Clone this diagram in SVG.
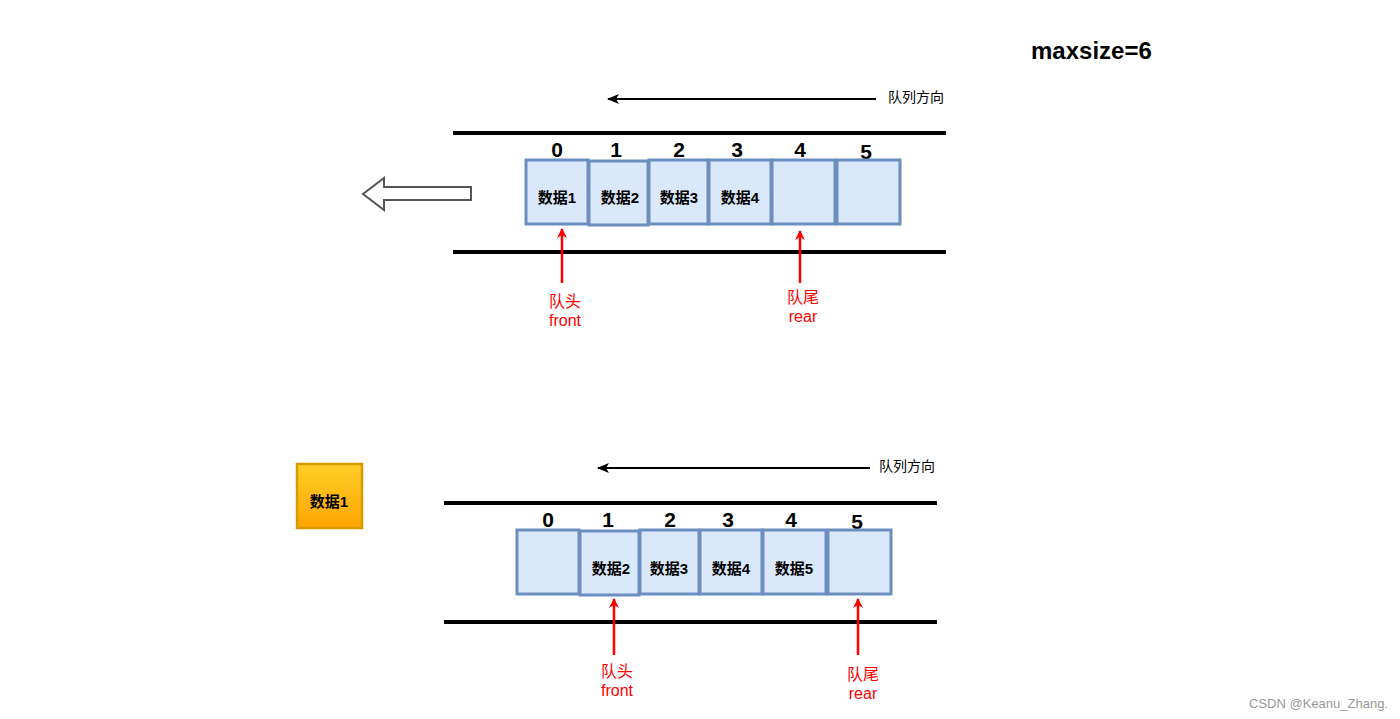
<svg xmlns="http://www.w3.org/2000/svg" width="1400" height="719" viewBox="0 0 1400 719">
<defs>
<marker id="ah" markerWidth="12" markerHeight="10" refX="11" refY="5" orient="auto" markerUnits="userSpaceOnUse"><path d="M0,0 L12,5 L0,10 L3,5 Z" fill="#000"/></marker>
<marker id="rh" markerWidth="10" markerHeight="12" refX="9" refY="5" orient="auto" markerUnits="userSpaceOnUse"><path d="M0,0 L10,5 L0,10 L3,5 Z" fill="#ff0000"/></marker>
<linearGradient id="og" x1="0" y1="0" x2="0" y2="1"><stop offset="0" stop-color="#ffcd28"/><stop offset="1" stop-color="#ffa500"/></linearGradient>
</defs>
<style>
.cell{fill:#dae8fc;stroke:#6c8ebf;stroke-width:3}
.rail{stroke:#000;stroke-width:4}
.idx{font-family:"Liberation Sans",Arial,sans-serif;font-weight:bold;font-size:21px;text-anchor:middle;fill:#000}
.lbl{font-family:"Liberation Sans","Noto Sans CJK SC",sans-serif;font-weight:bold;font-size:15px;text-anchor:middle;fill:#000}
.dir{font-family:"Liberation Sans","Noto Sans CJK SC",sans-serif;font-size:14px;fill:#000}
.red{font-family:"Liberation Sans","Noto Sans CJK SC",sans-serif;font-size:16px;text-anchor:middle;fill:#ff0000}
.dl{stroke:#000;stroke-width:2;fill:none}
.rl{stroke:#ff0000;stroke-width:2.5;fill:none}
</style>
<rect width="1400" height="719" fill="#fff"/>
<text x="1031" y="59" font-family="Liberation Sans,Arial,sans-serif" font-weight="bold" font-size="24" fill="#000">maxsize=6</text>

<g id="top-rails"><line class="rail" x1="453" y1="133" x2="946" y2="133"/><line class="rail" x1="453" y1="252" x2="946" y2="252"/></g>
<g id="top-indices"><text class="idx" x="557" y="157">0</text><text class="idx" x="616" y="157">1</text><text class="idx" x="679" y="157">2</text><text class="idx" x="737" y="157">3</text><text class="idx" x="800" y="157">4</text><text class="idx" x="866" y="159">5</text></g>
<g id="top-cell0"><rect class="cell" x="526" y="160" width="62" height="64"/><text class="lbl" x="557" y="203">数据1</text></g>
<g id="top-cell1"><rect class="cell" x="589" y="161" width="59" height="64"/><text class="lbl" x="620" y="203">数据2</text></g>
<g id="top-cell2"><rect class="cell" x="649" y="160" width="59" height="64"/><text class="lbl" x="679" y="203">数据3</text></g>
<g id="top-cell3"><rect class="cell" x="709" y="160" width="62" height="64"/><text class="lbl" x="740" y="203">数据4</text></g>
<g id="top-cell4"><rect class="cell" x="772" y="160" width="63" height="64"/></g>
<g id="top-cell5"><rect class="cell" x="837" y="160" width="63" height="64"/></g>
<g id="top-out-arrow"><path d="M471,187 L384,187 L384,178 L363,194 L384,210 L384,200 L471,200 Z" fill="#fff" stroke="#555" stroke-width="2"/></g>
<g id="top-dir"><text class="dir" x="888" y="102">队列方向</text></g>
<g id="top-front-label"><text class="red" x="565" y="307">队头</text><text class="red" x="565" y="326">front</text></g>
<g id="top-rear-label"><text class="red" x="803" y="303">队尾</text><text class="red" x="803" y="322">rear</text></g>

<g id="bottom-rails"><line class="rail" x1="444" y1="503" x2="937" y2="503"/><line class="rail" x1="444" y1="622" x2="937" y2="622"/></g>
<g id="bottom-indices"><text class="idx" x="548" y="527">0</text><text class="idx" x="608" y="527">1</text><text class="idx" x="670" y="527">2</text><text class="idx" x="728" y="527">3</text><text class="idx" x="791" y="527">4</text><text class="idx" x="857" y="529">5</text></g>
<g id="bottom-cell0"><rect class="cell" x="517" y="530" width="62" height="64"/></g>
<g id="bottom-cell1"><rect class="cell" x="580" y="531" width="59" height="64"/><text class="lbl" x="611" y="574">数据2</text></g>
<g id="bottom-cell2"><rect class="cell" x="640" y="530" width="59" height="64"/><text class="lbl" x="669" y="574">数据3</text></g>
<g id="bottom-cell3"><rect class="cell" x="700" y="530" width="62" height="64"/><text class="lbl" x="731" y="574">数据4</text></g>
<g id="bottom-cell4"><rect class="cell" x="763" y="530" width="63" height="64"/><text class="lbl" x="794" y="574">数据5</text></g>
<g id="bottom-cell5"><rect class="cell" x="828" y="530" width="63" height="64"/></g>
<g id="dequeued"><rect x="297" y="464" width="65" height="64" fill="url(#og)" stroke="#d79b00" stroke-width="2.5"/><text class="lbl" x="329" y="507">数据1</text></g>
<g id="bottom-dir"><text class="dir" x="879" y="471">队列方向</text></g>
<g id="bottom-front-label"><text class="red" x="617" y="677">队头</text><text class="red" x="617" y="696">front</text></g>
<g id="bottom-rear-label"><text class="red" x="863" y="680">队尾</text><text class="red" x="863" y="699">rear</text></g>

<g id="connectors">
<line class="dl" x1="876" y1="99" x2="608" y2="99" marker-end="url(#ah)"/>
<line class="dl" x1="870" y1="468" x2="598" y2="468" marker-end="url(#ah)"/>
<line class="rl" x1="562" y1="283" x2="562" y2="229" marker-end="url(#rh)"/>
<line class="rl" x1="800" y1="283" x2="800" y2="231" marker-end="url(#rh)"/>
<line class="rl" x1="614" y1="655" x2="614" y2="599" marker-end="url(#rh)"/>
<line class="rl" x1="858" y1="655" x2="858" y2="599" marker-end="url(#rh)"/>
</g>
<text x="1388" y="708" text-anchor="end" font-family="Liberation Sans,Arial,sans-serif" font-size="13" fill="#999">CSDN @Keanu_Zhang.</text>
</svg>
